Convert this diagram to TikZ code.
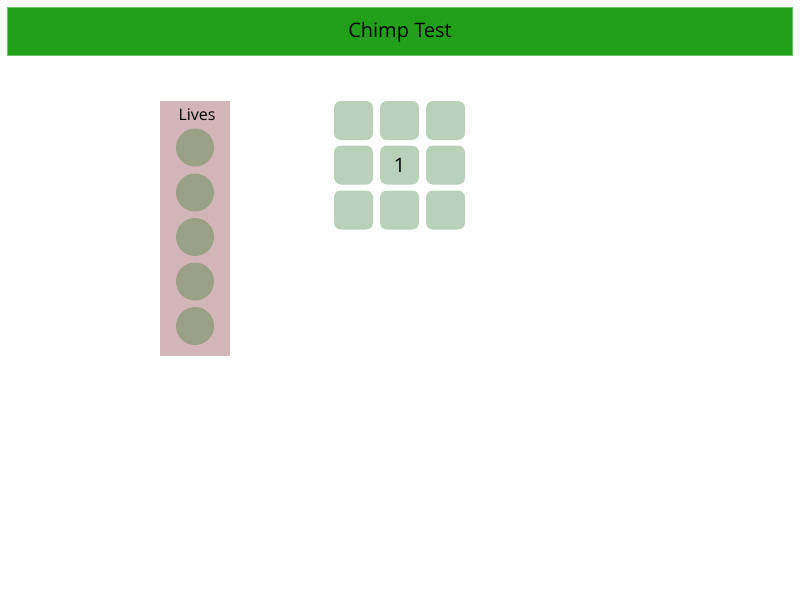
\documentclass[tikz,border=0pt]{standalone}
\usepackage{fontspec}
\setmainfont{Open Sans}
\definecolor{hdr}{HTML}{22A01A}
\definecolor{hdredge}{HTML}{6CC266}
\definecolor{panel}{HTML}{D2B5B7}
\definecolor{life}{HTML}{9AA085}
\definecolor{tilec}{HTML}{B8D1B8}
\tikzset{
  header/.style={fill=hdr, draw=hdredge, line width=0.8pt, minimum width=785pt, minimum height=48pt, inner sep=0pt},
  headtext/.style={font=\fontsize{20}{24}\selectfont, inner sep=0pt},
  livespanel/.style={fill=panel, draw=none, minimum width=70pt, minimum height=255pt, inner sep=0pt},
  lifedot/.style={circle, fill=life, draw=none, minimum size=38pt, inner sep=0pt},
  tile/.style={fill=tilec, draw=none, rounded corners=7pt, minimum size=39pt, inner sep=0pt, font=\fontsize{20}{24}\selectfont},
}
\begin{document}
\begin{tikzpicture}[x=1pt,y=-1pt]
\useasboundingbox (0,0) rectangle (800,600);
\node[header] (title) at (399.5,31) {};
\node[headtext] (titletext) at (400,32.5) {Chimp Test};
\node[livespanel] (panel) at (195,228.5) {};
\node[font=\fontsize{16}{19}\selectfont] (lives) at (197,114.5) {Lives};
\node[lifedot] (l1) at (195,147.5) {};
\node[lifedot] (l2) at (195,192.5) {};
\node[lifedot] (l3) at (195,237) {};
\node[lifedot] (l4) at (195,281.5) {};
\node[lifedot] (l5) at (195,326) {};
\node[tile] (t11) at (353.5,120.5) {};
\node[tile] (t12) at (399.5,120.5) {};
\node[tile] (t13) at (445.5,120.5) {};
\node[tile] (t21) at (353.5,165) {};
\node[tile] (t22) at (399.5,165) {1};
\node[tile] (t23) at (445.5,165) {};
\node[tile] (t31) at (353.5,210) {};
\node[tile] (t32) at (399.5,210) {};
\node[tile] (t33) at (445.5,210) {};
\end{tikzpicture}
\end{document}
